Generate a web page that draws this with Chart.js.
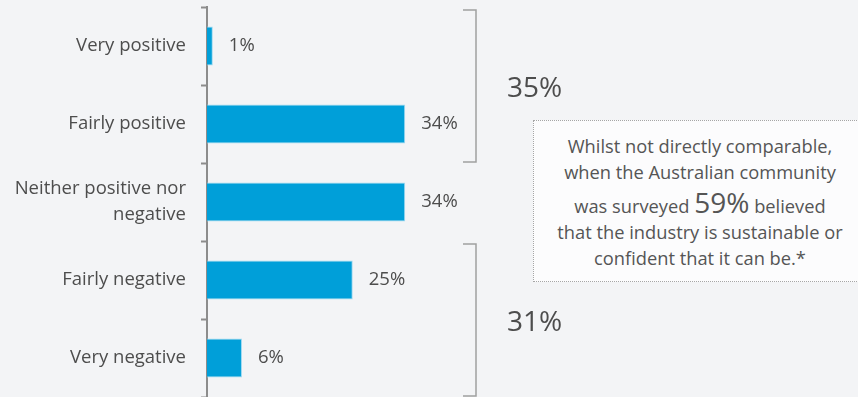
<!DOCTYPE html>
<html>
<head>
<meta charset="utf-8">
<script src="https://cdn.jsdelivr.net/npm/chart.js@4/dist/chart.umd.min.js"></script>
<style>
  html, body { margin: 0; padding: 0; background: #f3f4f6; }
  #wrap { position: relative; width: 858px; height: 397px; overflow: hidden; }
  #note {
    position: absolute; left: 533px; top: 120px; width: 334px; height: 162px;
    box-sizing: border-box; border: 1px dotted #a6a6a6; background: #fcfcfd;
    padding-top: 12px; text-align: center; color: #555;
    font-family: "Open Sans", sans-serif; font-size: 18.3px; line-height: 26px;
  }
  #note .big { font-size: 28px; line-height: 34px; }
</style>
</head>
<body>
<div id="wrap">
  <canvas id="chart" width="858" height="397"></canvas>
  <div id="note">Whilst not directly comparable,<br>when the Australian community<br>was surveyed <span class="big">59%</span> believed<br>that the industry is sustainable or<br>confident that it can be.*</div>
</div>
<script>
const categories = ['Very positive', 'Fairly positive', ['Neither positive nor', 'negative'], 'Fairly negative', 'Very negative'];
const shares = [1, 34, 34, 25, 6];
// net totals for the bracketed groups
const groups = [
    { label: '35%', from: 0, to: 1 },
    { label: '31%', from: 3, to: 4 }
];

const textColor = '#4d4d4d';

const extras = {
    id: 'extras',
    afterDatasetsDraw(chart) {
        const ctx = chart.ctx;
        const meta = chart.getDatasetMeta(0);
        ctx.save();
        ctx.fillStyle = textColor;
        ctx.font = '18.5px "Open Sans"';
        ctx.textBaseline = 'middle';
        ctx.textAlign = 'left';
        meta.data.forEach((bar, i) => {
            ctx.fillText(shares[i] + '%', bar.x + 16, bar.y);
        });

        // brackets and group totals
        const y = chart.scales.y;
        ctx.strokeStyle = '#a0a0a0';
        ctx.lineWidth = 1.5;
        groups.forEach(g => {
            const top = y.getPixelForValue(g.from - 0.5) + 3;
            const bottom = y.getPixelForValue(g.to + 0.5) - 1;
            ctx.beginPath();
            ctx.moveTo(463, top);
            ctx.lineTo(476, top);
            ctx.lineTo(476, bottom);
            ctx.lineTo(463, bottom);
            ctx.stroke();
            ctx.font = '28px "Open Sans"';
            ctx.fillText(g.label, 507, (top + bottom) / 2 + 3);
        });
        ctx.restore();
    }
};

new Chart(document.getElementById('chart'), {
    type: 'bar',
    data: {
        labels: categories,
        datasets: [{
            data: shares,
            backgroundColor: '#009fd9',
            borderColor: '#9fd9f1',
            borderWidth: 1,
            barPercentage: 0.5,
            categoryPercentage: 1
        }]
    },
    options: {
        indexAxis: 'y',
        responsive: false,
        animation: false,
        layout: { padding: { top: 7, right: 68, bottom: 0, left: 0 } },
        scales: {
            x: { display: false, min: 0, max: 100 },
            y: {
                afterFit(scale) {
                    scale.width = 207;
                    scale.paddingTop = 0;
                    scale.paddingBottom = 0;
                },
                border: { color: '#8c8c8c', width: 2 },
                grid: { drawOnChartArea: false, tickLength: 6, color: '#8c8c8c', tickWidth: 2 },
                ticks: { color: textColor, padding: 15, font: { family: 'Open Sans', size: 18.5, lineHeight: 1.4 } }
            }
        },
        plugins: {
            legend: { display: false },
            tooltip: { enabled: false }
        }
    },
    plugins: [extras]
});
</script>
</body>
</html>
